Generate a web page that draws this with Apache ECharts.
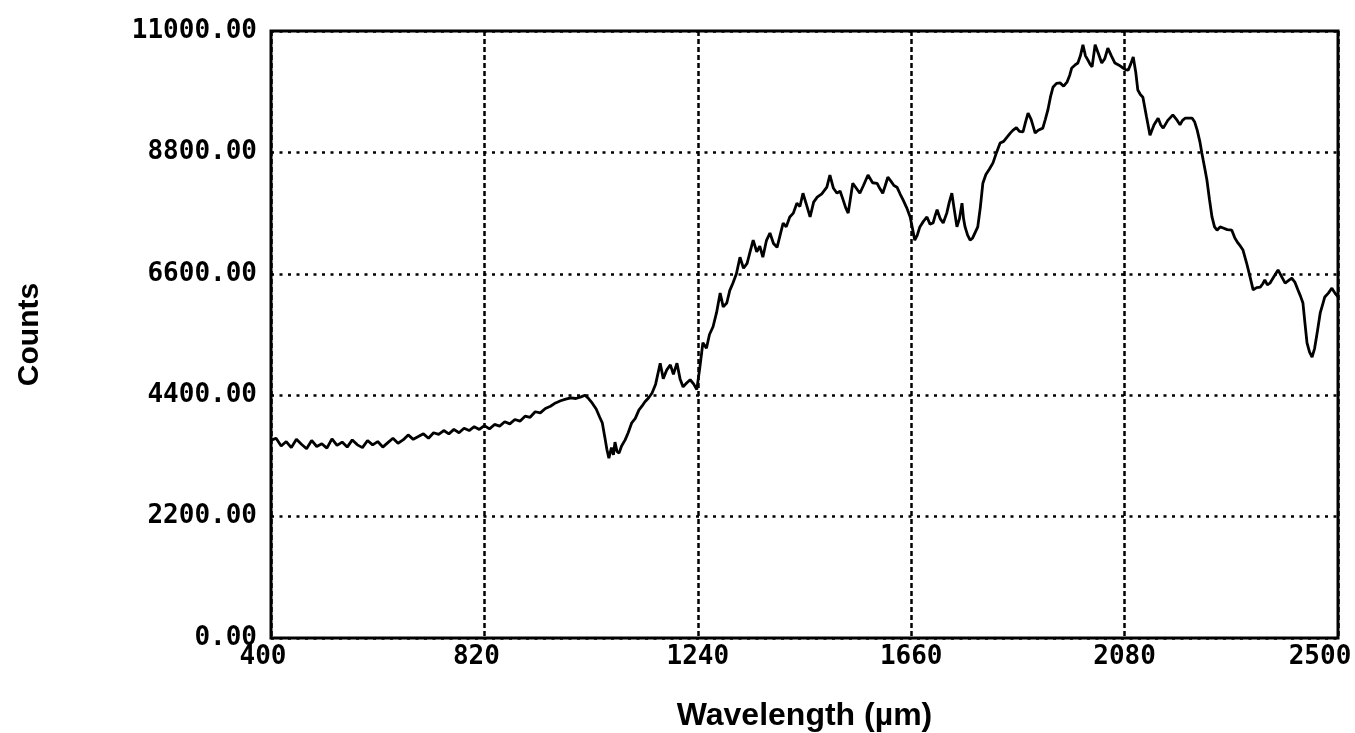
<!DOCTYPE html>
<html>
<head>
<meta charset="utf-8">
<title>Spectrum</title>
<script src="https://cdn.jsdelivr.net/npm/echarts@6/dist/echarts.min.js"></script>
<style>
  html, body { margin: 0; padding: 0; background: #fff; }
  #chart { width: 1355px; height: 733px; }
</style>
</head>
<body>
<div id="chart"></div>
<script>
// Spectrum samples: wavelength and detector counts
const wavelengths = [
  402, 410, 420, 430, 440, 450, 460, 470, 480, 490,
  500, 510, 520, 530, 540, 550, 560, 570, 580, 590,
  600, 610, 620, 630, 640, 650, 660, 670, 680, 690,
  700, 710, 720, 730, 740, 750, 760, 770, 780, 790,
  800, 810, 820, 830, 840, 850, 860, 870, 880, 890,
  900, 910, 920, 930, 940, 950, 960, 970, 980, 990,
  1000, 1010, 1018, 1025, 1032, 1040, 1047, 1052, 1057, 1061,
  1065, 1070, 1074, 1077, 1081, 1085, 1090, 1097, 1103, 1110,
  1117, 1124, 1130, 1136, 1143, 1150, 1157, 1166, 1172, 1179,
  1186, 1192, 1199, 1205, 1211, 1218, 1225, 1232, 1238, 1244,
  1250, 1257, 1263, 1270, 1277, 1284, 1290, 1297, 1303, 1309,
  1316, 1323, 1330, 1337, 1343, 1349, 1356, 1362, 1368, 1375,
  1382, 1389, 1396, 1402, 1408, 1414, 1421, 1428, 1435, 1441,
  1447, 1454, 1461, 1468, 1475, 1484, 1494, 1500, 1507, 1514,
  1520, 1526, 1531, 1536, 1541, 1545, 1552, 1559, 1566, 1575,
  1584, 1593, 1598, 1604, 1609, 1614, 1620, 1626, 1632, 1638,
  1644, 1651, 1658, 1663, 1667, 1672, 1677, 1684, 1691, 1697,
  1703, 1707, 1711, 1717, 1723, 1730, 1735, 1740, 1745, 1750,
  1755, 1760, 1763, 1766, 1771, 1776, 1781, 1786, 1791, 1796,
  1801, 1807, 1814, 1821, 1828, 1835, 1842, 1849, 1855, 1860,
  1867, 1873, 1880, 1885, 1890, 1896, 1904, 1910, 1919, 1924,
  1929, 1934, 1939, 1946, 1953, 1960, 1967, 1972, 1976, 1982,
  1988, 1993, 1998, 2003, 2008, 2012, 2016, 2019, 2022, 2028,
  2035, 2041, 2047, 2054, 2061, 2069, 2077, 2082, 2087, 2092,
  2097, 2102, 2106, 2111, 2116, 2123, 2130, 2138, 2146, 2151,
  2156, 2165, 2175, 2182, 2189, 2194, 2199, 2206, 2213, 2218,
  2223, 2228, 2232, 2237, 2242, 2247, 2252, 2257, 2262, 2268,
  2274, 2282, 2291, 2297, 2303, 2308, 2313, 2320, 2327, 2333,
  2340, 2347, 2352, 2356, 2361, 2366, 2374, 2382, 2389, 2396,
  2403, 2409, 2415, 2421, 2426, 2431, 2435, 2439, 2444, 2449,
  2454, 2459, 2465, 2470, 2474, 2481, 2488, 2494, 2500
];

const counts = [
  3590, 3620, 3480, 3560, 3450, 3600, 3510, 3430, 3580, 3470,
  3520, 3440, 3610, 3490, 3550, 3460, 3590, 3500, 3450, 3580,
  3500, 3560, 3460, 3540, 3620, 3530, 3590, 3680, 3600, 3650,
  3700, 3620, 3720, 3690, 3760, 3700, 3780, 3720, 3800, 3760,
  3830, 3780, 3850, 3790, 3870, 3840, 3920, 3880, 3960, 3930,
  4020, 4000, 4100, 4080, 4160, 4200, 4260, 4300, 4330, 4350,
  4340, 4370, 4400, 4340, 4260, 4150, 4000, 3900, 3640, 3420,
  3260, 3450, 3320, 3550, 3380, 3350, 3480, 3590, 3720, 3900,
  3980, 4130, 4200, 4280, 4350, 4440, 4600, 4980, 4700, 4860,
  4950, 4780, 4980, 4700, 4550, 4620, 4680, 4600, 4500, 4900,
  5350, 5250, 5500, 5640, 5900, 6250, 6000, 6070, 6300, 6430,
  6600, 6900, 6700, 6790, 7000, 7210, 7000, 7100, 6900, 7200,
  7340, 7150, 7080, 7300, 7520, 7450, 7630, 7700, 7880, 7820,
  8060, 7850, 7630, 7900, 7990, 8050, 8170, 8390, 8150, 8060,
  8100, 7940, 7800, 7700, 8000, 8240, 8150, 8060, 8200, 8390,
  8250, 8240, 8150, 8060, 8200, 8350, 8280, 8200, 8170, 8050,
  7940, 7800, 7630, 7400, 7210, 7300, 7450, 7550, 7630, 7500,
  7520, 7650, 7760, 7600, 7520, 7700, 7900, 8060, 7750, 7450,
  7600, 7880, 7600, 7450, 7300, 7210, 7250, 7350, 7450, 7800,
  8240, 8400, 8500, 8610, 8800, 8970, 9000, 9080, 9150, 9200,
  9250, 9180, 9170, 9350, 9510, 9400, 9150, 9200, 9240, 9400,
  9570, 9800, 9980, 10050, 10060, 10000, 10080, 10200, 10330, 10380,
  10420, 10550, 10750, 10550, 10470, 10400, 10350, 10550, 10750, 10600,
  10420, 10500, 10690, 10550, 10420, 10380, 10330, 10300, 10290, 10400,
  10530, 10250, 9930, 9850, 9800, 9450, 9110, 9300, 9420, 9300,
  9240, 9380, 9480, 9400, 9300, 9380, 9420, 9420, 9420, 9350,
  9200, 9000, 8790, 8550, 8300, 7950, 7630, 7450, 7390, 7450,
  7430, 7400, 7390, 7250, 7160, 7100, 7030, 6800, 6540, 6310,
  6350, 6360, 6420, 6490, 6400, 6430, 6550, 6670, 6550, 6430,
  6480, 6520, 6450, 6310, 6200, 6070, 5700, 5350, 5180, 5090,
  5250, 5530, 5890, 6050, 6180, 6250, 6340, 6250, 6180
];

// Axis ranges and tick spacing
const xTicks = [400, 820, 1240, 1660, 2080, 2500];
const yTicks = [0, 2200, 4400, 6600, 8800, 11000];

const tickFont = {
  fontFamily: 'DejaVu Sans Mono',
  fontWeight: 'bold',
  fontSize: 26,
  color: '#000'
};

const chart = echarts.init(document.getElementById('chart'), null, { renderer: 'canvas' });

chart.setOption({
  animation: false,
  backgroundColor: '#fff',
  grid: {
    left: 271,
    right: 17,
    top: 31,
    bottom: 95,
    outerBoundsMode: 'none',
    show: true,
    borderColor: '#000',
    borderWidth: 3,
    backgroundColor: 'transparent'
  },
  xAxis: {
    type: 'value',
    min: xTicks[0],
    max: xTicks[xTicks.length - 1],
    interval: xTicks[1] - xTicks[0],
    name: 'Wavelength (\u00b5m)',
    nameLocation: 'middle',
    nameGap: 62,
    nameTextStyle: {
      fontFamily: 'Liberation Sans',
      fontWeight: 'bold',
      fontSize: 32,
      color: '#000'
    },
    axisLine: { show: false },
    axisTick: { show: false },
    axisLabel: {
      margin: 6,
      formatter: function (v) {
        const s = String(v);
        if (v === xTicks[xTicks.length - 1]) return '{e|' + s + '}';
        return s.length < 4 ? '{s|' + s + '}' : '{n|' + s + '}';
      },
      rich: {
        n: Object.assign({}, tickFont),
        s: Object.assign({ padding: [0, 16, 0, 0] }, tickFont),
        e: Object.assign({ padding: [0, 36, 0, 0] }, tickFont)
      }
    },
    splitLine: {
      show: true,
      lineStyle: { color: '#000', width: 2.5, type: [5, 3] }
    }
  },
  yAxis: {
    type: 'value',
    min: yTicks[0],
    max: yTicks[yTicks.length - 1],
    interval: yTicks[1] - yTicks[0],
    name: 'Counts',
    nameLocation: 'middle',
    nameGap: 226,
    nameRotate: 90,
    nameTextStyle: {
      fontFamily: 'Liberation Sans',
      fontWeight: 'bold',
      fontSize: 30,
      color: '#000'
    },
    axisLine: { show: false },
    axisTick: { show: false },
    axisLabel: Object.assign({
      margin: 14,
      padding: [0, 0, 16, 0],
      formatter: function (v) { return v.toFixed(2); }
    }, tickFont),
    splitLine: {
      show: true,
      lineStyle: { color: '#000', width: 2.5, type: [3, 5.5] }
    }
  },
  series: [{
    type: 'line',
    showSymbol: false,
    symbol: 'none',
    lineStyle: { color: '#000', width: 2.8 },
    data: wavelengths.map(function (w, i) { return [w, counts[i]]; })
  }]
});
</script>
</body>
</html>
